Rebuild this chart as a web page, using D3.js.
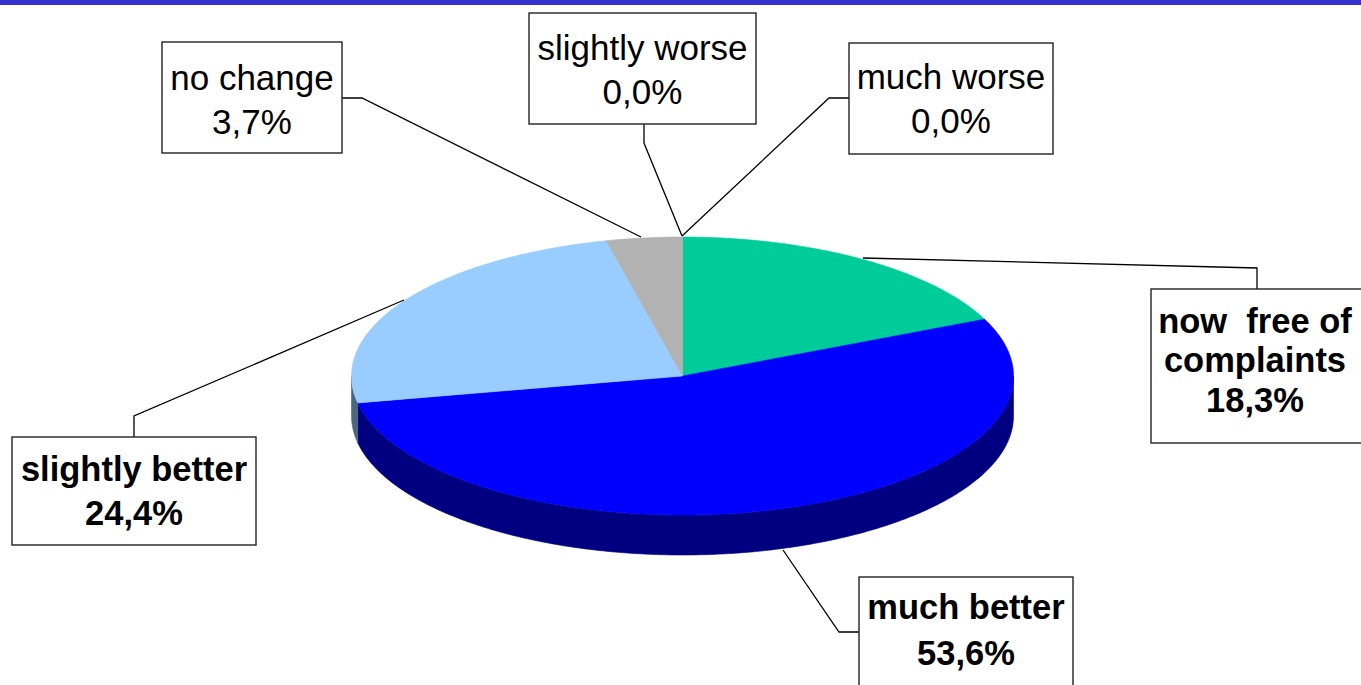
<!DOCTYPE html>
<html>
<head>
<meta charset="utf-8">
<script src="https://cdn.jsdelivr.net/npm/d3@7"></script>
<style>
  html, body { margin: 0; padding: 0; background: #fff; }
  svg { display: block; }
  text { font-family: "Liberation Sans", Arial, sans-serif; white-space: pre; }
</style>
</head>
<body>
<svg id="chart" width="1361" height="685"></svg>
<script>
// ---- data ----
const categories = ["now  free of complaints", "much better", "slightly better", "no change", "slightly worse", "much worse"];
const values = [18.3, 53.6, 24.4, 3.7, 0.0, 0.0];
const valueLabels = ["18,3%", "53,6%", "24,4%", "3,7%", "0,0%", "0,0%"];
const labelLines = [["now  free of", "complaints"], ["much better"], ["slightly better"], ["no change"], ["slightly worse"], ["much worse"]];
const boldLabel = [true, true, true, false, false, false];
const topColors = ["#00CC99", "#0000FF", "#99CCFF", "#B2B2B2", "#993366", "#FFFFCC"];
const sideColors = ["#006650", "#000080", "#4D6680", "#5A5A5A", "#4D1A33", "#808066"];

// ---- layout ----
const svg = d3.select("#chart");
const cx = 682.5, cy = 376, rx = 331, ry = 139, depth = 40;

svg.append("rect").attr("x", 0).attr("y", 0).attr("width", 1361).attr("height", 5).attr("fill", "#3333CC");

const pie = d3.pie().sort(null).startAngle(0).endAngle(2 * Math.PI);
const arcs = pie(values);

const px = a => cx + rx * Math.sin(a);
const py = a => cy - ry * Math.cos(a);

function arcPoints(a0, a1, dy) {
  const n = Math.max(2, Math.ceil((a1 - a0) / 0.01));
  const pts = [];
  for (let i = 0; i <= n; i++) {
    const a = a0 + (a1 - a0) * i / n;
    pts.push([px(a), py(a) + dy]);
  }
  return pts;
}

const gPie = svg.append("g");
// sides (front-facing portion: angles between PI/2 and 3PI/2)
arcs.forEach((d, i) => {
  const s = Math.max(d.startAngle, Math.PI / 2);
  const e = Math.min(d.endAngle, 3 * Math.PI / 2);
  if (e <= s) return;
  const top = arcPoints(s, e, 0);
  const bot = arcPoints(s, e, depth).reverse();
  gPie.append("path")
    .attr("d", d3.line()(top.concat(bot)) + "Z")
    .attr("fill", sideColors[i])
    .attr("stroke", sideColors[i]).attr("stroke-width", 0.6);
});
// tops
arcs.forEach((d, i) => {
  if (d.endAngle - d.startAngle <= 0) return;
  const pts = [[cx, cy]].concat(arcPoints(d.startAngle, d.endAngle, 0));
  gPie.append("path")
    .attr("d", d3.line()(pts) + "Z")
    .attr("fill", topColors[i])
    .attr("stroke", topColors[i]).attr("stroke-width", 0.6);
});

// ---- label boxes ----
const boxes = [
  {x: 1151, y: 289, w: 215, h: 154, tx: 1255, base: [333, 372], vBase: 412},
  {x: 859, y: 577, w: 214, h: 120, tx: 966, base: [619], vBase: 665},
  {x: 12, y: 437, w: 244, h: 108, tx: 134, base: [481], vBase: 525},
  {x: 162, y: 42, w: 180, h: 111, tx: 252, base: [90], vBase: 134},
  {x: 529, y: 13, w: 227, h: 111, tx: 642.5, base: [60], vBase: 104},
  {x: 849, y: 43, w: 204, h: 111, tx: 951, base: [89], vBase: 133}
];
const leaders = [
  [[1257, 289], [1257, 268], [863, 258]],
  [[859, 632], [839, 632], [783, 550]],
  [[134, 437], [134, 416], [404, 300]],
  [[342, 98], [362, 98], [641, 237]],
  [[644, 124], [644, 143], [682, 236]],
  [[849, 98], [829, 98], [682, 236]]
];

const gLab = svg.append("g");
leaders.forEach(pts => {
  gLab.append("path").attr("d", d3.line()(pts))
    .attr("fill", "none").attr("stroke", "#000").attr("stroke-width", 1.3);
});
boxes.forEach((b, i) => {
  gLab.append("rect").attr("x", b.x).attr("y", b.y).attr("width", b.w).attr("height", b.h)
    .attr("fill", "#fff").attr("stroke", "#222").attr("stroke-width", 1.4);
  const fs = boldLabel[i] ? 34.5 : 35;
  const fw = boldLabel[i] ? "bold" : "normal";
  labelLines[i].forEach((t, j) => {
    gLab.append("text").attr("x", b.tx).attr("y", b.base[j])
      .attr("text-anchor", "middle").attr("font-size", fs).attr("font-weight", fw)
      .attr("fill", "#000").text(t);
  });
  gLab.append("text").attr("x", b.tx).attr("y", b.vBase)
    .attr("text-anchor", "middle").attr("font-size", fs).attr("font-weight", fw)
    .attr("fill", "#000").text(valueLabels[i]);
});
</script>
</body>
</html>
